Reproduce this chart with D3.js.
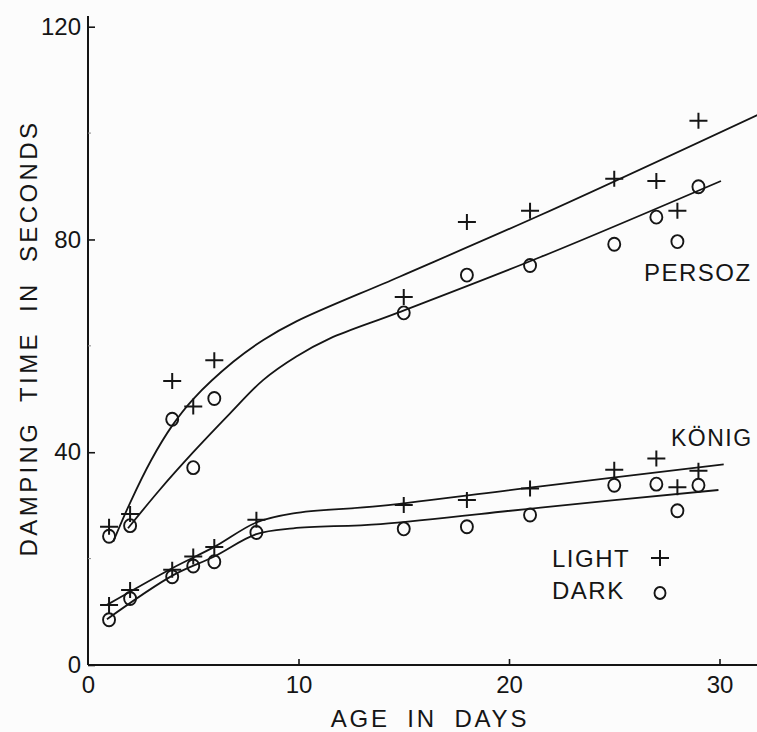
<!DOCTYPE html>
<html>
<head>
<meta charset="utf-8">
<script src="https://cdn.jsdelivr.net/npm/d3@7/dist/d3.min.js"></script>
<style>
  html, body { margin: 0; padding: 0; background: #fcfcfc; }
  svg { display: block; }
  text { font-family: "Liberation Sans", Arial, sans-serif; fill: #151515; }
</style>
</head>
<body>
<svg id="chart" width="757" height="732"></svg>
<script>
// Measured damping times (seconds) by film age (days)
const persozDays = [1, 2, 4, 5, 6, 15, 18, 21, 25, 27, 28, 29];
const persozLight = [26.0, 28.4, 53.4, 48.6, 57.3, 69.2, 83.3, 85.4, 91.4, 91.0, 85.4, 102.3];
const persozDark  = [24.2, 26.2, 46.2, 37.1, 50.1, 66.2, 73.3, 75.1, 79.1, 84.2, 79.6, 89.9];

const konigDays  = [1, 2, 4, 5, 6, 8, 15, 18, 21, 25, 27, 28, 29];
const konigLight = [11.3, 14.1, 17.9, 20.4, 22.2, 27.3, 30.1, 31.0, 33.2, 36.7, 38.8, 33.4, 36.5];
const konigDark  = [8.5, 12.5, 16.6, 18.6, 19.4, 24.9, 25.6, 26.0, 28.2, 33.8, 34.0, 29.0, 33.8];

// Hand-fitted trend curves: [day, seconds]
const persozLightFit = [[1.2, 23.2], [2, 30.5], [3, 38.5], [4, 45.0], [5, 50.0], [6.9, 57.0], [8.33, 61.1], [9.9, 64.6], [14.8, 73.0], [21.5, 84.6], [31.8, 103.4]];
const persozDarkFit  = [[1.9, 25.7], [3.4, 32.9], [5, 40.0], [6.75, 47.3], [8.33, 53.6], [9.9, 58.0], [11.5, 61.4], [14.7, 66.2], [21.5, 76.7], [30.07, 91.0]];
const konigLightFit  = [[0.9, 11.3], [4, 18.2], [6, 22.2], [8, 26.8], [9.75, 28.5], [13.9, 29.9], [21.5, 33.6], [30.2, 37.7]];
const konigDarkFit   = [[0.9, 8.6], [4.05, 16.9], [6, 20.4], [8, 24.6], [9.75, 25.7], [13.9, 26.5], [21.5, 29.6], [29.95, 32.9]];

const xTicks = [0, 10, 20, 30];
const yTicks = [0, 40, 80, 120];
const yMinorTicks = [20, 60, 100];

const svg = d3.select("#chart");
const ink = "#151515";

const x = d3.scaleLinear().domain([0, 30]).range([88, 719.5]);
const y = d3.scaleLinear().domain([0, 120]).range([665, 26.7]);

// Axis lines
svg.append("line")
  .attr("x1", x(0)).attr("x2", x(0))
  .attr("y1", y(0)).attr("y2", y(122))
  .attr("stroke", ink).attr("stroke-width", 2);
svg.append("line")
  .attr("x1", x(0)).attr("x2", x(31.8))
  .attr("y1", y(0)).attr("y2", y(0))
  .attr("stroke", ink).attr("stroke-width", 2);

// Y axis ticks (pointing inward) and labels
const yAxis = d3.axisLeft(y).tickValues(yTicks).tickSize(-7).tickPadding(7).tickFormat(d3.format("d"));
const gy = svg.append("g").attr("transform", `translate(${x(0)},0)`).call(yAxis);
gy.select(".domain").remove();
gy.selectAll(".tick line").attr("stroke", ink).attr("stroke-width", 1.6);
gy.selectAll(".tick text").attr("font-size", 24).attr("fill", ink).attr("font-family", "Liberation Sans, Arial, sans-serif");

svg.append("g").selectAll("line").data(yMinorTicks).join("line")
  .attr("x1", x(0)).attr("x2", x(0) + 3)
  .attr("y1", d => y(d)).attr("y2", d => y(d))
  .attr("stroke", "#888").attr("stroke-width", 1);

// X axis ticks (pointing inward) and labels
const xAxis = d3.axisBottom(x).tickValues(xTicks).tickSize(-6).tickPadding(11).tickFormat(d3.format("d"));
const gx = svg.append("g").attr("transform", `translate(0,${y(0)})`).call(xAxis);
gx.select(".domain").remove();
gx.selectAll(".tick line").attr("stroke", ink).attr("stroke-width", 1.6);
gx.selectAll(".tick text").attr("font-size", 24).attr("fill", ink).attr("font-family", "Liberation Sans, Arial, sans-serif");
gx.selectAll(".tick line").filter(d => d === 0).remove();

// Axis titles
svg.append("text")
  .attr("x", 430).attr("y", 727)
  .attr("text-anchor", "middle")
  .attr("font-size", 24)
  .attr("letter-spacing", 2.8)
  .attr("word-spacing", 8)
  .text("AGE IN DAYS");

svg.append("text")
  .attr("transform", "translate(37,338) rotate(-90)")
  .attr("text-anchor", "middle")
  .attr("font-size", 24)
  .attr("letter-spacing", 3.4)
  .attr("word-spacing", 9)
  .text("DAMPING TIME IN SECONDS");

// Fitted curves
const line = d3.line().x(d => x(d[0])).y(d => y(d[1])).curve(d3.curveCatmullRom.alpha(0.5));
[persozLightFit, persozDarkFit, konigLightFit, konigDarkFit].forEach(fit => {
  svg.append("path")
    .attr("d", line(fit))
    .attr("fill", "none")
    .attr("stroke", ink)
    .attr("stroke-width", 1.8);
});

// Markers
const plusPath = "M-9,0H9M0,-8V8";
function drawLight(days, vals) {
  svg.append("g").selectAll("path").data(days.map((d, i) => [d, vals[i]])).join("path")
    .attr("d", plusPath)
    .attr("transform", d => `translate(${x(d[0])},${y(d[1])})`)
    .attr("stroke", ink).attr("stroke-width", 2).attr("fill", "none");
}
function drawDark(days, vals) {
  svg.append("g").selectAll("ellipse").data(days.map((d, i) => [d, vals[i]])).join("ellipse")
    .attr("cx", d => x(d[0])).attr("cy", d => y(d[1]))
    .attr("rx", 6).attr("ry", 6.5)
    .attr("stroke", ink).attr("stroke-width", 1.9).attr("fill", "none");
}
drawLight(persozDays, persozLight);
drawDark(persozDays, persozDark);
drawLight(konigDays, konigLight);
drawDark(konigDays, konigDark);

// Curve labels
svg.append("text").attr("x", 644).attr("y", 281)
  .attr("font-size", 24).attr("letter-spacing", 1.5).text("PERSOZ");
svg.append("text").attr("x", 671).attr("y", 446)
  .attr("font-size", 23).attr("letter-spacing", 1.5).text("KÖNIG");

// Legend
svg.append("text").attr("x", 552).attr("y", 567)
  .attr("font-size", 24).attr("letter-spacing", 1.5).text("LIGHT");
svg.append("path").attr("d", plusPath)
  .attr("transform", "translate(660,558)")
  .attr("stroke", ink).attr("stroke-width", 2).attr("fill", "none");
svg.append("text").attr("x", 552).attr("y", 599)
  .attr("font-size", 24).attr("letter-spacing", 1.5).text("DARK");
svg.append("ellipse").attr("cx", 660).attr("cy", 593).attr("rx", 5.5).attr("ry", 6)
  .attr("stroke", ink).attr("stroke-width", 1.9).attr("fill", "none");
</script>
</body>
</html>
